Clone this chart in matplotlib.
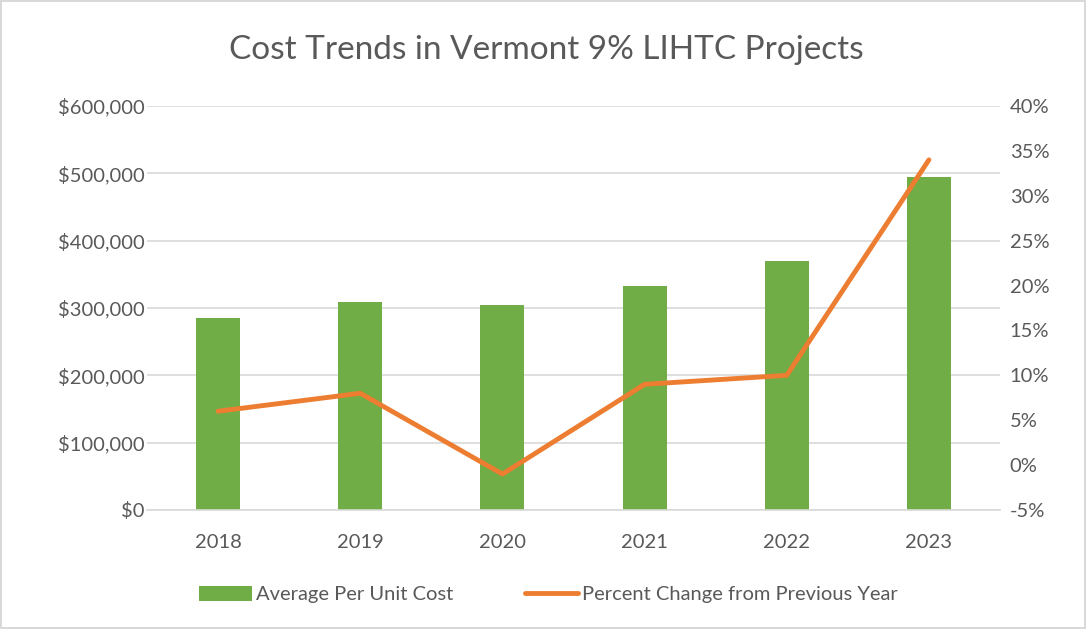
import numpy as np
import matplotlib.pyplot as plt
from matplotlib.ticker import FuncFormatter, MultipleLocator

years = ['2018', '2019', '2020', '2021', '2022', '2023']
avg_cost = [285000, 309000, 304000, 333000, 370000, 494000]
pct_change = [6.0, 8.0, -1.0, 9.0, 10.0, 34.0]

green = '#70AD47'
orange = '#ED7D31'
text_col = '#595959'
grid_col = '#D9D9D9'

plt.rcParams['font.family'] = ['Lato', 'DejaVu Sans']

fig = plt.figure(figsize=(10.86, 6.29), dpi=100)
fig.patch.set_edgecolor('#D9D9D9')
fig.patch.set_linewidth(1.5)
ax = fig.add_axes([0.1354, 0.1892, 0.7854, 0.6423])
ax2 = ax.twinx()

x = np.arange(len(years))
ax.bar(x, avg_cost, width=0.31, color=green, zorder=2, label='Average Per Unit Cost')
ax.set_ylim(0, 600000)
ax.set_xlim(-0.5, len(years) - 0.5)
ax.yaxis.set_major_locator(MultipleLocator(100000))
ax.yaxis.set_major_formatter(FuncFormatter(lambda v, p: '${:,.0f}'.format(v)))
ax.grid(axis='y', color=grid_col, linewidth=1.2, zorder=0)
ax.set_axisbelow(True)
ax.set_xticks(x)
ax.set_xticklabels(years)

ax2.plot(x, pct_change, color=orange, linewidth=3.5, solid_capstyle='round',
         label='Percent Change from Previous Year', zorder=3)
ax2.set_ylim(-5, 40)
ax2.yaxis.set_major_locator(MultipleLocator(5))
ax2.yaxis.set_major_formatter(FuncFormatter(lambda v, p: '{:.0f}%'.format(v)))

for a in (ax, ax2):
    for s in a.spines.values():
        s.set_visible(False)
    a.tick_params(length=0, labelsize=14.5, labelcolor=text_col)
ax.spines['bottom'].set_visible(True)
ax.spines['bottom'].set_color(grid_col)
ax.spines['bottom'].set_linewidth(1.2)
ax.tick_params(axis='y', pad=2)
ax2.tick_params(axis='y', pad=7)
ax.tick_params(axis='x', pad=17)

fig.suptitle('Cost Trends in Vermont 9% LIHTC Projects', x=0.503, y=0.945,
             fontsize=24, color=text_col)

h1, l1 = ax.get_legend_handles_labels()
h2, l2 = ax2.get_legend_handles_labels()
fig.legend(h1 + h2, l1 + l2, loc='center', bbox_to_anchor=(0.505, 0.055), ncol=2,
           frameon=False, fontsize=14.5, labelcolor=text_col, handlelength=2.6,
           handletextpad=0.2, columnspacing=3.6, handleheight=0.8)

fig.savefig('out.png', dpi=100)
